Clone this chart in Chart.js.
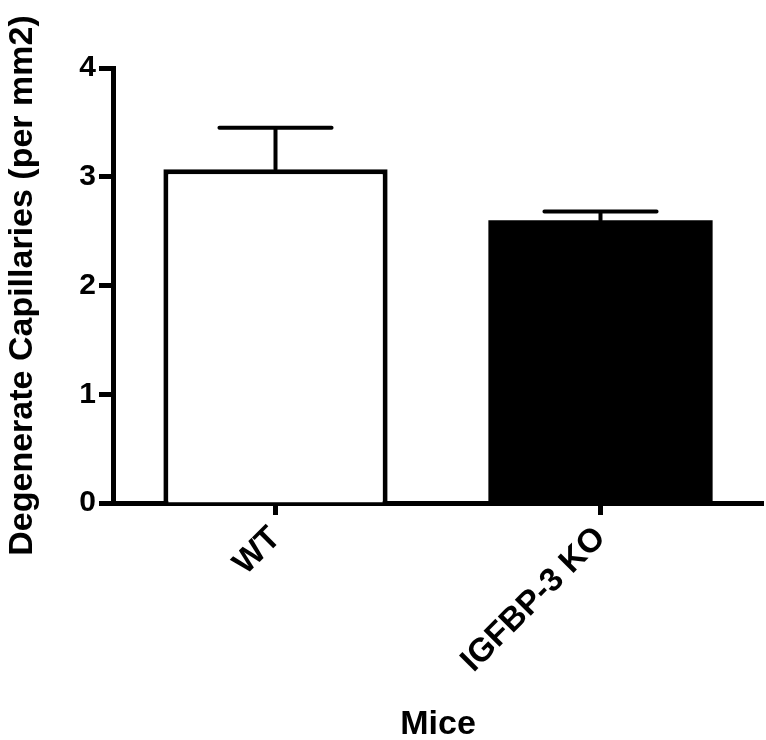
<!DOCTYPE html>
<html>
<head>
<meta charset="utf-8">
<script src="https://cdn.jsdelivr.net/npm/chart.js@4.4.0/dist/chart.umd.min.js"></script>
<style>
  html, body { margin: 0; padding: 0; background: #fff; }
  #wrap { width: 766px; height: 740px; }
</style>
</head>
<body>
<div id="wrap"><canvas id="c" width="766" height="740"></canvas></div>
<script>
const categories = ["WT", "IGFBP-3 KO"];
const means = [3.07, 2.60];
const sem = [0.38, 0.08];
const barFill = ["#ffffff", "#000000"];
const yTicks = [0, 1, 2, 3, 4];
const xTitle = "Mice";
const yTitle = "Degenerate Capillaries (per mm2)";

const FONT = "'Liberation Sans', Arial, Helvetica, sans-serif";

const errorBars = {
  id: 'errorBars',
  afterDatasetsDraw(chart) {
    const ctx = chart.ctx;
    const meta = chart.getDatasetMeta(0);
    const y = chart.scales.y;
    ctx.save();
    ctx.strokeStyle = '#000';
    ctx.lineWidth = 4;
    ctx.lineCap = 'round';
    meta.data.forEach((bar, i) => {
      const x = bar.x;
      const yTop = y.getPixelForValue(means[i] + sem[i]);
      const yBase = y.getPixelForValue(means[i]);
      const half = bar.width / 4;
      ctx.beginPath();
      ctx.moveTo(x, yBase);
      ctx.lineTo(x, yTop);
      ctx.moveTo(x - half, yTop);
      ctx.lineTo(x + half, yTop);
      ctx.stroke();
    });
    ctx.restore();
  }
};

new Chart(document.getElementById('c'), {
  type: 'bar',
  data: {
    labels: categories,
    datasets: [{
      data: means,
      backgroundColor: barFill,
      borderColor: '#000',
      borderWidth: [5, 0],
      borderSkipped: 'start',
      categoryPercentage: 1.0,
      barPercentage: 0.69
    }]
  },
  options: {
    responsive: false,
    animation: false,
    devicePixelRatio: 1,
    layout: { padding: { top: 68, right: 3, left: 0, bottom: 0 } },
    plugins: { legend: { display: false }, tooltip: { enabled: false } },
    scales: {
      x: {
        type: 'category',
        offset: true,
        grid: { display: true, drawOnChartArea: false, drawTicks: true, offset: false,
                tickLength: 12, tickWidth: 5, color: '#000' },
        border: { display: true, color: '#000', width: 5 },
        ticks: { color: '#000', autoSkip: false, minRotation: 45, maxRotation: 45, padding: 4,
                 font: { family: FONT, size: 33, weight: 'bold' } },
        title: { display: true, text: xTitle, color: '#000', padding: { top: 0, bottom: -2 },
                 font: { family: FONT, size: 34, weight: 'bold', lineHeight: 1 } },
        afterFit(scale) { scale.height = 237; }
      },
      y: {
        min: 0, max: 4,
        afterBuildTicks(scale) { scale.ticks = yTicks.map(v => ({ value: v })); },
        grid: { display: true, drawOnChartArea: false, drawTicks: true,
                tickLength: 14, tickWidth: 5, color: '#000' },
        border: { display: true, color: '#000', width: 5 },
        ticks: { color: '#000', padding: 3,
                 font: { family: FONT, size: 30, weight: 'bold' } },
        title: { display: true, text: yTitle, color: '#000', padding: { top: 6, bottom: 0 },
                 font: { family: FONT, size: 34, weight: 'bold', lineHeight: 1 } },
        afterFit(scale) { scale.width = 113; }
      }
    }
  },
  plugins: [errorBars]
});
</script>
</body>
</html>
